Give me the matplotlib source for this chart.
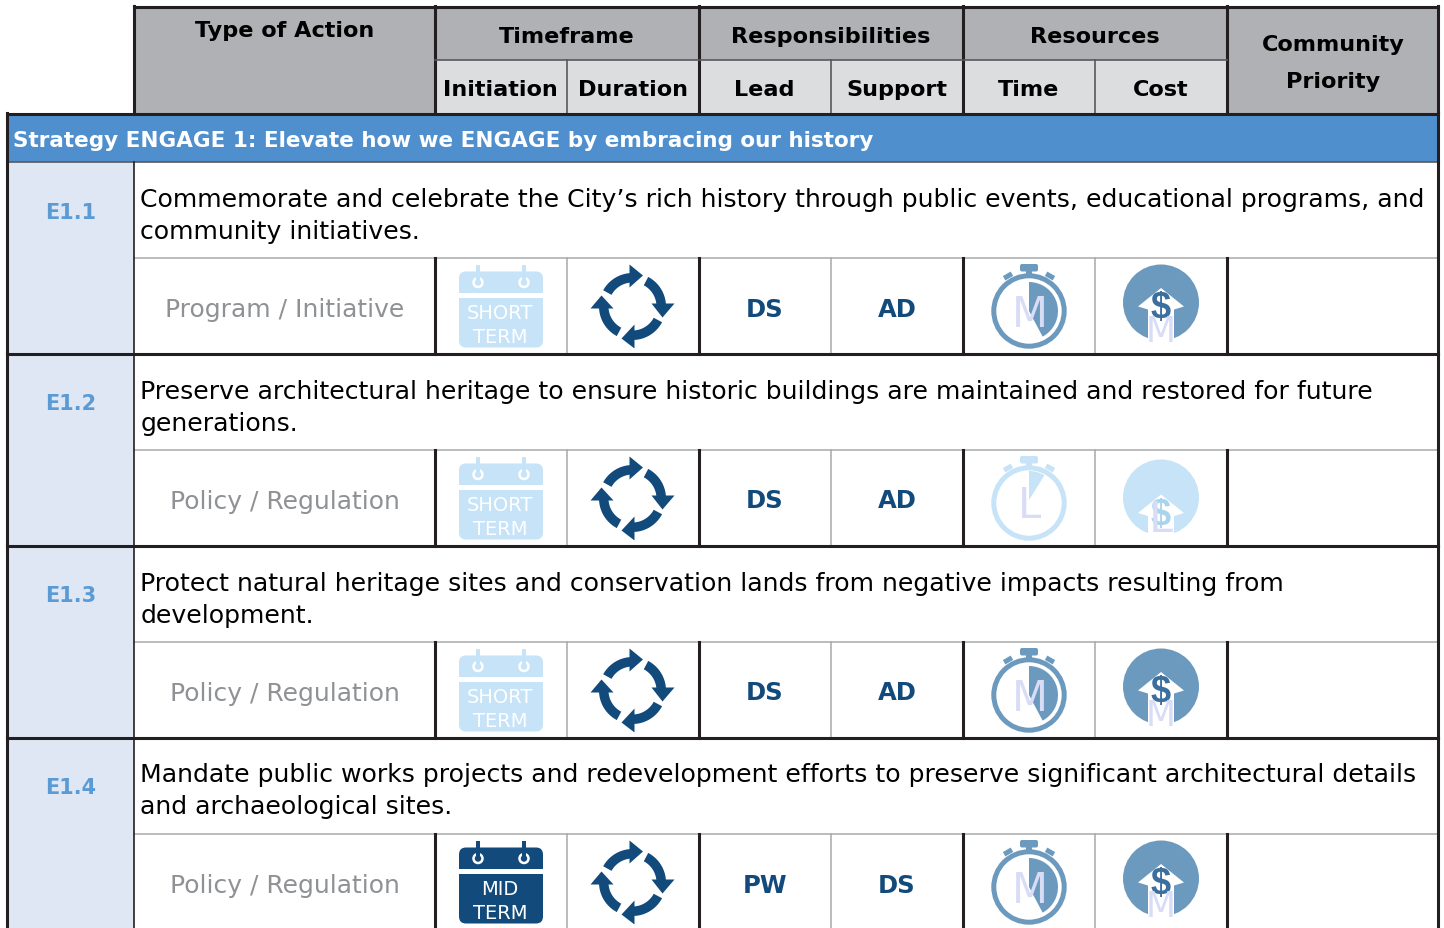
import numpy as np
import matplotlib
matplotlib.use("Agg")
import matplotlib.pyplot as plt
from matplotlib.patches import Rectangle, FancyBboxPatch, Polygon, Circle, Wedge

plt.rcParams['font.family'] = ['DejaVu Sans']

# table content
action_ids = ["E1.1", "E1.2", "E1.3", "E1.4"]
line_one = [
    "Commemorate and celebrate the City\u2019s rich history through public events, educational programs, and",
    "Preserve architectural heritage to ensure historic buildings are maintained and restored for future",
    "Protect natural heritage sites and conservation lands from negative impacts resulting from",
    "Mandate public works projects and redevelopment efforts to preserve significant architectural details",
]
line_two = [
    "community initiatives.",
    "generations.",
    "development.",
    "and archaeological sites.",
]
action_types = ["Program / Initiative", "Policy / Regulation", "Policy / Regulation", "Policy / Regulation"]
initiation = ["SHORT", "SHORT", "SHORT", "MID"]
leads = ["DS", "DS", "DS", "PW"]
supports = ["AD", "AD", "AD", "DS"]
times = ["M", "L", "M", "M"]
costs = ["M", "L", "M", "M"]
sub_heads = ["Initiation", "Duration", "Lead", "Support", "Time", "Cost"]
strategy = "Strategy ENGAGE 1: Elevate how we ENGAGE by embracing our history"

# layout in pixels
col_x = [7, 134, 434.5, 566.5, 698.5, 830.5, 962.5, 1094.5, 1226.5, 1438]
row_top = [162.5, 354.5, 546.5, 738.5]
W, H = 1444, 929

GRAY = "#b0b1b5"
LIGHT = "#dcddde"
BAND = "#4f8fce"
PALE = "#dfe7f4"
IDBLUE = "#5b9bd5"
NAVY = "#124a7c"
SKY = "#c6e3f7"
STEEL = "#6c9abf"
LAV = "#d9dcf5"
DARK = "#231f20"
THIN = "#a7a9ac"

fig = plt.figure(figsize=(W / 100, H / 100), dpi=100)
ax = fig.add_axes([0, 0, 1, 1])
ax.set_xlim(0, W)
ax.set_ylim(H, 0)
ax.axis("off")


def box(x0, y0, x1, y1, color, z=1):
    ax.add_patch(Rectangle((x0, y0), x1 - x0, y1 - y0, fc=color, ec="none", zorder=z))


def line(x0, y0, x1, y1, color=DARK, lw=2.2, z=5):
    ax.plot([x0, x1], [y0, y1], color=color, lw=lw, zorder=z, solid_capstyle="projecting")


def label(x, y, s, size, color="black", weight="normal", ha="center", z=6, family=None):
    ax.text(x, y, s, fontsize=size, color=color, fontweight=weight, ha=ha, va="center", zorder=z, family=family)


def arc(cx, cy, r0, r1, a0, a1, color, z=6):
    t = np.radians(np.linspace(a0, a1, 40))
    outer = np.c_[cx + r1 * np.cos(t), cy - r1 * np.sin(t)]
    inner = np.c_[cx + r0 * np.cos(t[::-1]), cy - r0 * np.sin(t[::-1])]
    ax.add_patch(Polygon(np.r_[outer, inner], closed=True, fc=color, ec="none", zorder=z))


def calendar(cx, top, word, color):
    x0, x1 = cx - 42, cx + 42
    ax.add_patch(FancyBboxPatch((x0 + 5, top + 5), 74, 66, boxstyle="round,pad=5,rounding_size=7",
                                fc=color, ec="none", zorder=6))
    box(x0, top + 21, x1, top + 26, "white", 7)
    for rx in (cx - 23, cx + 23):
        ax.add_patch(Circle((rx, top + 11), 4.5, fc="none", ec="white", lw=1.8, zorder=7))
        box(rx - 2.2, top - 7, rx + 2.2, top + 10, color, 8)
    label(cx - 1, top + 41, word, 14, "white", z=8)
    label(cx - 1, top + 65, "TERM", 14, "white", z=8)


def cycle(cx, cy, color=NAVY):
    arc(cx, cy, 24, 33.5, 151, 88, color)
    arc(cx, cy, 24, 33.5, 62, 0, color)
    arc(cx, cy, 24, 33.5, -28, -90, color)
    arc(cx, cy, 24, 33.5, 242, 180, color)
    heads = [[(-3, -42), (10.5, -31), (-3, -19)],
             [(19, -3), (42, -3), (30, 11)],
             [(2, 18), (-11, 32), (2, 42)],
             [(-19, 2), (-42, 2), (-31, -11)]]
    for h in heads:
        ax.add_patch(Polygon([(cx + a, cy + b) for a, b in h], closed=True, fc=color, ec="none", zorder=6))


def stopwatch(cx, cy, letter, color):
    ax.add_patch(Circle((cx, cy), 35.2, fc="white", ec=color, lw=3.6, zorder=6))
    ax.add_patch(FancyBboxPatch((cx - 7, cy - 45), 14, 3.5, boxstyle="round,pad=2,rounding_size=2",
                                fc=color, ec="none", zorder=6))
    box(cx - 3, cy - 42, cx + 3, cy - 35, color, 5.5)
    for sgn in (-1, 1):
        kx, ky = cx + sgn * 21, cy - 35
        d = np.array([np.cos(np.radians(sgn * 30)), np.sin(np.radians(sgn * 30))])
        n = np.array([-d[1], d[0]])
        pts = [np.array([kx, ky]) + a * d * 4.5 + b * n * 2.5 for a, b in [(-1, -1), (1, -1), (1, 1), (-1, 1)]]
        ax.add_patch(Polygon(pts, closed=True, fc=color, ec="none", zorder=6))
    # inverted y axis, so wedge angles run clockwise from +x
    if letter == "M":
        ax.add_patch(Wedge((cx, cy), 29, -90, 62, fc=color, ec="none", zorder=7))
        label(cx + 1, cy + 3, letter, 30, LAV, z=8)
    else:
        ax.add_patch(Wedge((cx, cy - 3), 29, -90, -58, fc=color, ec="none", zorder=7))
        label(cx + 1, cy + 2, letter, 30, LAV, z=8)


def cost_icon(cx, cy, letter, color):
    if letter == "L":
        cy += 3
    ax.add_patch(Circle((cx, cy), 38, fc=color, ec="none", zorder=6))
    dy = 0 if letter == "M" else 11.5
    house = [(cx, cy - 14.5 + dy), (cx + 23, cy + 4 + dy), (cx + 13, cy + 7 + dy), (cx + 13, cy + 42),
             (cx - 13, cy + 42), (cx - 13, cy + 7 + dy), (cx - 23, cy + 4 + dy)]
    ax.add_patch(Polygon(house, closed=True, fc="white", ec="none", zorder=7))
    dollar = "#3b6f9e" if letter == "M" else "#a9d4ee"
    label(cx, cy + 5 + dy, "$", 26, dollar, "bold", z=8, family="Liberation Sans")
    if letter == "M":
        label(cx, cy + 28, letter, 25, LAV, z=9)
    else:
        label(cx, cy + 21, letter, 31, LAV, z=9)


# header
box(col_x[1], 7, col_x[2], 114, GRAY)
box(col_x[2], 7, col_x[8], 61, GRAY)
box(col_x[2], 61, col_x[8], 114, LIGHT)
box(col_x[8], 7, col_x[9], 114, GRAY)
line(col_x[1], 7.5, col_x[9], 7.5)
for x in (col_x[1], col_x[2], col_x[4], col_x[6], col_x[8], col_x[9]):
    line(x, 7, x, 114)
line(col_x[2], 61, col_x[8], 61, "#58595b", 1.2)
for x in (col_x[3], col_x[5], col_x[7]):
    line(x, 61, x, 114, "#58595b", 1.2)

HEAD = 16.1
label(285, 31, "Type of Action", HEAD, weight="bold")
label(567, 37, "Timeframe", HEAD, weight="bold")
label(831, 37, "Responsibilities", HEAD, weight="bold")
label(1095, 37, "Resources", HEAD, weight="bold")
label(1333, 45, "Community", HEAD, weight="bold")
label(1333, 82, "Priority", HEAD, weight="bold")
for i, s in enumerate(sub_heads):
    label((col_x[i + 2] + col_x[i + 3]) / 2, 90, s, HEAD, weight="bold")

# strategy band
box(col_x[0], 114, col_x[9], 162.5, BAND)
line(col_x[0], 114.5, col_x[9], 114.5)
line(col_x[0], 162.5, col_x[9], 162.5, "#58595b", 1.2)
line(col_x[0], 114, col_x[0], 162)
line(col_x[9], 114, col_x[9], 162)
label(13, 141, strategy, 15.5, "white", "bold", ha="left")

# action rows
for i, top in enumerate(row_top):
    mid = top + 96
    bot = min(top + 192, H + 5)
    ic = top + 147 + (i == 3)
    box(col_x[0], top, col_x[1], bot, PALE)
    label(71, top + 50, action_ids[i], 15, IDBLUE, "bold")
    label(140.5, top + 37, line_one[i], 18.1, "black", ha="left")
    label(140.5, top + 69, line_two[i], 18.1, "black", ha="left")
    label(285, ic, action_types[i], 18, "#8f9194")

    line(col_x[1], mid, col_x[9], mid, THIN, 1.1)
    for x in (col_x[3], col_x[5], col_x[7]):
        line(x, mid, x, bot, THIN, 1.1)
    for x in (col_x[2], col_x[4], col_x[6], col_x[8]):
        line(x, mid, x, bot)
    line(col_x[1], top, col_x[1], bot, DARK, 1.2)
    line(col_x[0], top, col_x[0], bot)
    line(col_x[9], top, col_x[9], bot)
    if i < 3:
        line(col_x[0], bot, col_x[9], bot)

    cal_color = NAVY if initiation[i] == "MID" else SKY
    calendar(501, top + 110, initiation[i], cal_color)
    cycle(632.5, top + 145)
    label(765, ic, leads[i], 17.5, NAVY, "bold")
    label(897, ic, supports[i], 17.5, NAVY, "bold")
    stopwatch(1029, top + 149.5, times[i], STEEL if times[i] == "M" else SKY)
    cost_icon(1161, top + 141, costs[i], STEEL if costs[i] == "M" else SKY)

fig.savefig("out.png", dpi=100)
